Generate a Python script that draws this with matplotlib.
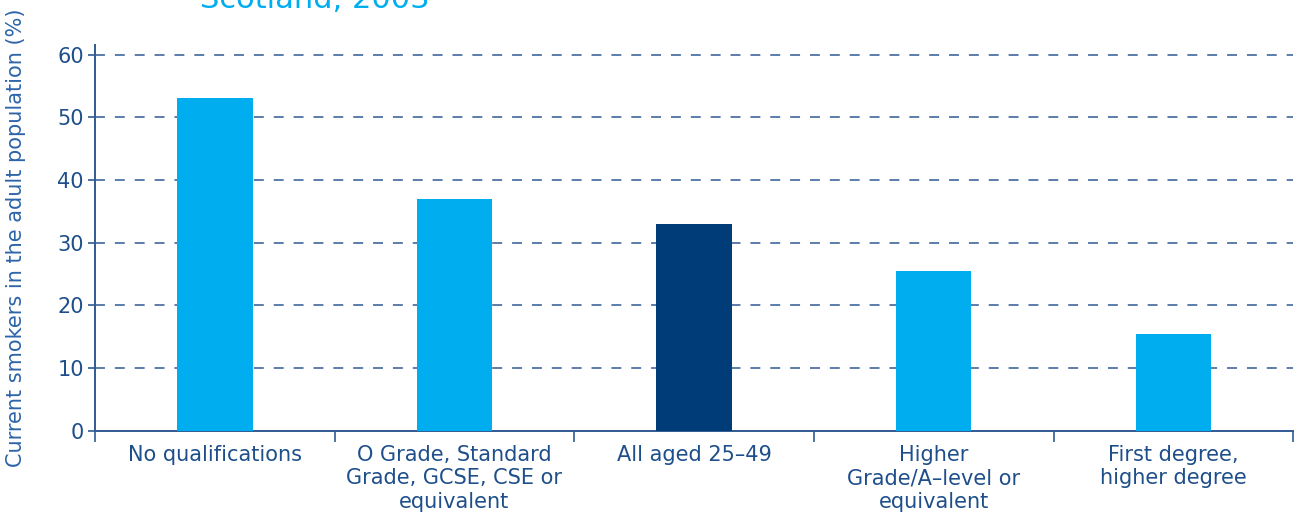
import matplotlib
matplotlib.use("Agg")
import matplotlib.pyplot as plt

# Smoking prevalence by highest qualification
categories = [
    "No qualifications",
    "O Grade, Standard\nGrade, GCSE, CSE or\nequivalent",
    "All aged 25\u201349",
    "Higher\nGrade/A\u2013level or\nequivalent",
    "First degree,\nhigher degree",
]
smokers_pct = [53, 37, 33, 25.5, 15.5]
bar_colors = ["#00AEEF", "#00AEEF", "#003C78", "#00AEEF", "#00AEEF"]
yticks = [0, 10, 20, 30, 40, 50, 60]

plt.rcParams["font.family"] = ["DejaVu Sans"]
axis_blue = "#2F5A93"
text_blue = "#1E4F8A"

fig = plt.figure(figsize=(12.96, 5.13), dpi=100)
ax = fig.add_axes([0.0733, 0.160, 0.9245, 0.752])

x = list(range(len(categories)))
ax.bar(x, smokers_pct, width=0.315, color=bar_colors, zorder=3)

ax.set_xlim(-0.5, len(categories) - 0.5)
ax.set_ylim(0, 61.5)

# dashed gridlines above zero only
for v in yticks[1:]:
    ax.axhline(v, color=axis_blue, linestyle=(0, (6.5, 6.5)), linewidth=1.1, zorder=1)

ax.set_yticks(yticks)
ax.set_yticklabels([str(v) for v in yticks], fontsize=15, color=text_blue)
ax.tick_params(axis="y", direction="out", length=5, width=1.2, color=axis_blue, pad=3)

# category ticks sit between the bars
ax.set_xticks([i - 0.5 for i in range(len(categories) + 1)])
ax.set_xticklabels([])
ax.set_xticks(x, minor=True)
ax.set_xticklabels(categories, minor=True, fontsize=15, color=text_blue, linespacing=1.22)
ax.tick_params(axis="x", which="major", direction="out", length=8, width=1.2, color=axis_blue)
ax.tick_params(axis="x", which="minor", length=0, pad=10)

for side in ["top", "right"]:
    ax.spines[side].set_visible(False)
for side in ["left", "bottom"]:
    ax.spines[side].set_color(axis_blue)
    ax.spines[side].set_linewidth(1.4)

ax.set_ylabel("Current smokers in the adult population (%)", fontsize=15,
              color="#2D64A8")
ax.yaxis.set_label_coords(-0.058, 0.50)

fig.text(0.154, 1 - 8 / 513, "Scotland, 2003", fontsize=22, color="#00AEEF",
         ha="left", va="baseline")

fig.savefig("out.png", dpi=100)
